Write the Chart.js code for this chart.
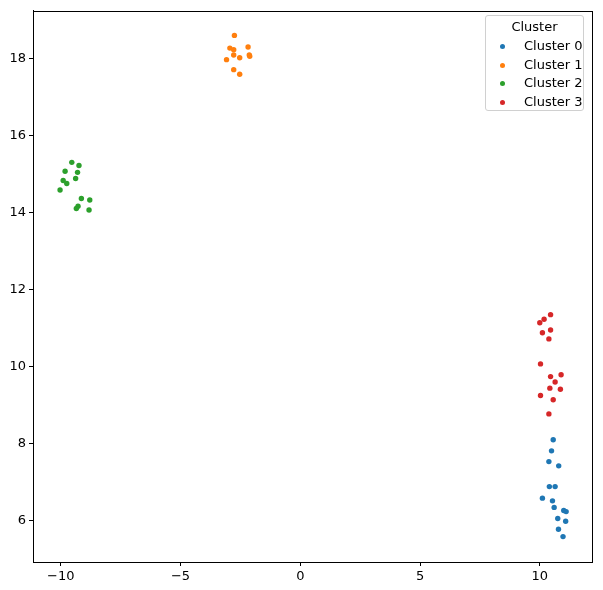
<!DOCTYPE html>
<html>
<head>
<meta charset="utf-8">
<script src="https://cdn.jsdelivr.net/npm/chart.js@4"></script>
<style>
  body { margin: 0; background: #fff; }
  #wrap { position: relative; width: 603px; height: 590px; }
  #legend {
    position: absolute; left: 485px; top: 15px; width: 99px; height: 96px;
    border: 1px solid #d0d0d0; border-radius: 3px; background: rgba(255,255,255,0.8);
    font-family: "DejaVu Sans", sans-serif; font-size: 13px; color: #000;
    box-sizing: border-box;
  }
  #legend .title { position: absolute; left: 0; width: 100%; top: 3px; text-align: center; }
  #legend .row { position: absolute; left: 0; height: 18px; line-height: 18px; }
  #legend .dot { position: absolute; left: 14px; top: 7px; width: 5px; height: 5px; border-radius: 50%; }
  #legend .lbl { position: absolute; left: 38px; white-space: nowrap; }
</style>
</head>
<body>
<div id="wrap">
  <canvas id="scatter" width="603" height="590"></canvas>
  <div id="legend"></div>
</div>
<script>
const clusterNames = ['Cluster 0', 'Cluster 1', 'Cluster 2', 'Cluster 3'];
const clusterColors = ['#1f77b4', '#ff7f0e', '#2ca02c', '#d62728'];

const cluster0X = [10.56, 10.49, 10.38, 10.79, 10.40, 10.64, 10.11, 10.53, 10.60, 11.00, 11.10, 10.75, 11.08, 10.78, 10.97];
const cluster0Y = [8.10, 7.81, 7.53, 7.42, 6.88, 6.88, 6.58, 6.51, 6.34, 6.26, 6.23, 6.05, 5.98, 5.77, 5.58];

const cluster1X = [-2.75, -2.94, -2.78, -2.18, -2.78, -2.53, -2.13, -2.11, -3.08, -2.78, -2.53];
const cluster1Y = [18.61, 18.28, 18.24, 18.31, 18.10, 18.03, 18.10, 18.07, 17.98, 17.72, 17.60];

const cluster2X = [-9.54, -9.24, -9.82, -9.30, -9.38, -9.90, -9.75, -10.03, -9.14, -8.79, -9.28, -9.35, -8.82];
const cluster2Y = [15.31, 15.23, 15.08, 15.05, 14.89, 14.84, 14.76, 14.59, 14.37, 14.33, 14.17, 14.11, 14.07];

const cluster3X = [10.45, 10.18, 10.00, 10.11, 10.45, 10.38, 10.03, 10.89, 10.45, 10.64, 10.42, 10.86, 10.03, 10.56, 10.38];
const cluster3Y = [11.35, 11.23, 11.14, 10.88, 10.95, 10.72, 10.07, 9.79, 9.74, 9.60, 9.44, 9.41, 9.25, 9.14, 8.77];

const xTicks = [-10, -5, 0, 5, 10];
const yTicks = [6, 8, 10, 12, 14, 16, 18];

const clusterXs = [cluster0X, cluster1X, cluster2X, cluster3X];
const clusterYs = [cluster0Y, cluster1Y, cluster2Y, cluster3Y];

const fmt = v => (v < 0 ? '\u2212' + Math.abs(v) : String(v));
const font = { family: 'DejaVu Sans', size: 13 };

// moldura completa do eixo (topo e direita)
const frame = {
  id: 'frame',
  afterDraw(chart) {
    const a = chart.chartArea, c = chart.ctx;
    c.save();
    c.strokeStyle = '#000';
    c.lineWidth = 1;
    c.strokeRect(Math.round(a.left) + 0.5, Math.round(a.top) + 0.5,
                 Math.round(a.right - a.left), Math.round(a.bottom - a.top));
    c.restore();
  }
};

new Chart(document.getElementById('scatter'), {
  type: 'scatter',
  data: {
    datasets: clusterNames.map((name, i) => ({
      label: name,
      data: clusterXs[i].map((x, j) => ({ x: x, y: clusterYs[i][j] })),
      backgroundColor: clusterColors[i],
      borderWidth: 0,
      pointRadius: 2.7,
      pointHoverRadius: 2.7
    }))
  },
  plugins: [frame],
  options: {
    responsive: false,
    animation: false,
    devicePixelRatio: 1,
    layout: { padding: { top: 7, right: 11, left: 0, bottom: 0 } },
    plugins: { legend: { display: false }, tooltip: { enabled: false } },
    scales: {
      x: {
        type: 'linear', min: -11.16, max: 12.18,
        afterBuildTicks: ax => { ax.ticks = xTicks.map(v => ({ value: v })); },
        afterFit: ax => { ax.height = 28; },
        grid: { drawOnChartArea: false, drawTicks: true, tickLength: 4, tickColor: '#000' },
        border: { color: '#000' },
        ticks: { color: '#000', font: font, padding: 3, maxRotation: 0, callback: v => fmt(v) }
      },
      y: {
        type: 'linear', min: 4.92, max: 19.25,
        afterBuildTicks: ax => { ax.ticks = yTicks.map(v => ({ value: v })); },
        afterFit: ax => { ax.width = 33; },
        grid: { drawOnChartArea: false, drawTicks: true, tickLength: 4, tickColor: '#000' },
        border: { color: '#000' },
        ticks: { color: '#000', font: font, padding: 3, callback: v => fmt(v) }
      }
    }
  }
});

const legend = document.getElementById('legend');
legend.innerHTML = '<div class="title">Cluster</div>' + clusterNames.map((name, i) =>
  '<div class="row" style="top:' + (21 + i * 18.7) + 'px"><span class="dot" style="background:' +
  clusterColors[i] + '"></span><span class="lbl">' + name + '</span></div>').join('');
</script>
</body>
</html>
